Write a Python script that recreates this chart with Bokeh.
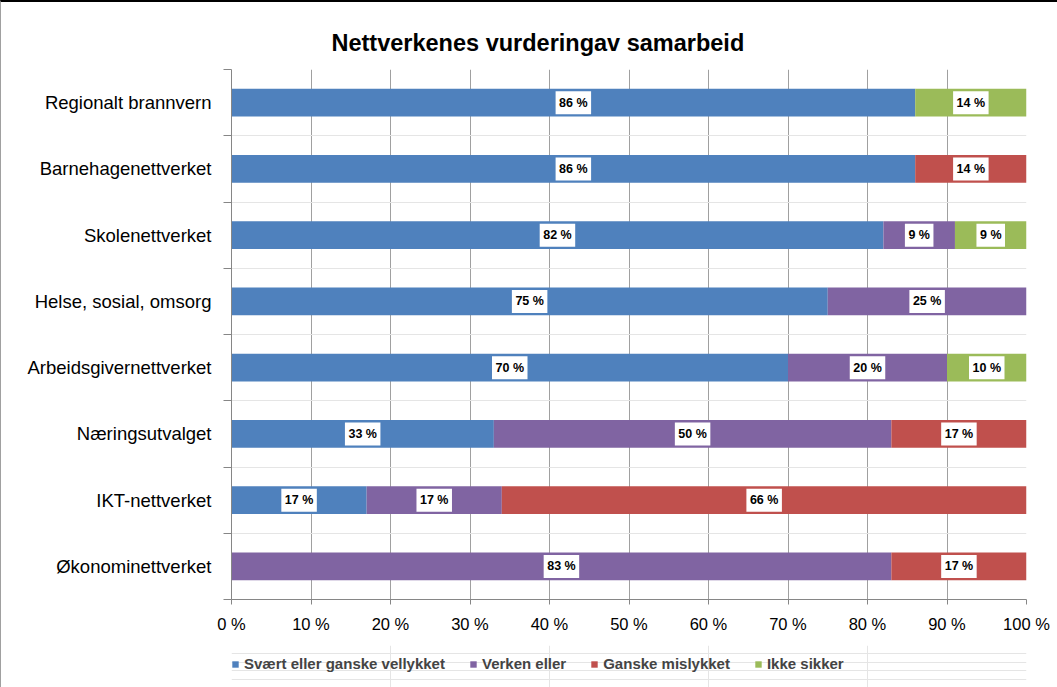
import numpy as np
from bokeh.plotting import figure
from bokeh.layouts import column
from bokeh.models import (ColumnDataSource, Range1d, LinearAxis, FixedTicker, Legend, LegendItem)
from bokeh.core.properties import value
from bokeh.embed import file_html
from bokeh.resources import INLINE

# ---------------- data ----------------
categories = ["Regionalt brannvern", "Barnehagenettverket", "Skolenettverket",
              "Helse, sosial, omsorg", "Arbeidsgivernettverket", "Næringsutvalget",
              "IKT-nettverket", "Økonominettverket"]
svaert_vellykket = [86, 86, 82, 75, 70, 33, 17, 0]
verken_eller = [0, 0, 9, 25, 20, 50, 17, 83]
ganske_mislykket = [0, 14, 0, 0, 0, 17, 66, 17]
ikke_sikker = [14, 0, 9, 0, 10, 0, 0, 0]
series_names = ["Svært eller ganske vellykket", "Verken eller", "Ganske mislykket", "Ikke sikker"]
x_ticks = [0, 10, 20, 30, 40, 50, 60, 70, 80, 90, 100]
x_tick_labels = ["0 %", "10 %", "20 %", "30 %", "40 %", "50 %", "60 %", "70 %", "80 %", "90 %", "100 %"]
title_text = "Nettverkenes vurderingav samarbeid"

colors = ["#4F81BD", "#8064A2", "#C0504D", "#9BBB59"]
FONT = "Liberation Sans"
n = len(categories)

# category positions: first category at top
ypos = [float(n - 1 - i) + 0.5 for i in range(n)]

keys = ["s1", "s2", "s3", "s4"]
series = [svaert_vellykket, verken_eller, ganske_mislykket, ikke_sikker]
src = ColumnDataSource(dict(y=ypos, s1=svaert_vellykket, s2=verken_eller,
                            s3=ganske_mislykket, s4=ikke_sikker))

# label positions (segment midpoints)
lx, ly, lt, lw = [], [], [], []
for i in range(n):
    start = 0
    for s in series:
        v = s[i]
        if v > 0:
            lx.append(start + v / 2)
            ly.append(ypos[i])
            lt.append(f"{v} %")
            lw.append(len(str(v)) * 6.95 + 14.6 + 7)
        start += v
lsrc = ColumnDataSource(dict(x=lx, y=ly, text=lt, w=lw))

p = figure(width=1057, height=645, output_backend="svg", toolbar_location=None,
           y_range=Range1d(0, n), x_range=Range1d(0, 100),
           y_axis_location=None, x_axis_location="below",
           min_border_left=230, min_border_right=32, min_border_top=67, min_border_bottom=48)
p.styles = {"border-top": "2px solid #000000", "border-left": "1px solid #a0a0a0"}
p.outline_line_color = None
p.background_fill_color = "white"
p.border_fill_color = "white"

renderers = p.hbar_stack(keys, y="y", height=0.42, color=colors, source=src, line_color=None)

# x axis
xa = p.xaxis[0]
xa.ticker = FixedTicker(ticks=x_ticks)
xa.major_label_overrides = {t: l for t, l in zip(x_ticks, x_tick_labels)}
xa.major_label_text_font = FONT
xa.major_label_text_font_size = "16.5px"
xa.major_label_text_color = "#000000"
xa.major_label_standoff = 10
xa.major_tick_in = 0
xa.major_tick_out = 5
xa.major_tick_line_color = "#868686"
xa.minor_tick_line_color = None
xa.axis_line_color = "#868686"
p.xgrid.grid_line_color = "#a0a0a0"

# y axis: tick marks between categories + category labels
tick_axis = LinearAxis(ticker=FixedTicker(ticks=list(range(n + 1))),
                       major_label_text_font_size="0px", major_tick_in=0, major_tick_out=8,
                       major_tick_line_color="#868686", minor_tick_line_color=None,
                       axis_line_color="#868686", major_label_standoff=0)
tick_axis.major_label_overrides = {i: "" for i in range(n + 1)}
p.add_layout(tick_axis, "left")
cat_axis = LinearAxis(ticker=FixedTicker(ticks=ypos), major_tick_line_color=None,
                      minor_tick_line_color=None, axis_line_color=None,
                      major_label_text_font=FONT, major_label_text_font_size="18.5px",
                      major_label_text_color="#000000", major_label_standoff=6)
cat_axis.major_label_overrides = {y: c for y, c in zip(ypos, categories)}
p.add_layout(cat_axis, "left")

# value labels: white boxes + bold text
p.rect(x="x", y="y", width="w", height=23, width_units="screen", height_units="screen",
       fill_color="white", line_color=None, source=lsrc)
p.text(x="x", y="y", text="text", source=lsrc, text_align="center", text_baseline="middle",
       text_font=value(FONT), text_font_size="12.5px", text_font_style="bold",
       text_color="#000000")

# title
p.title.text = title_text
p.title.text_font = FONT
p.title.text_font_size = "23.5px"
p.title.text_font_style = "bold"
p.title.align = "left"
p.title.offset = 100
p.title.standoff = 28
p.title.text_color = "#000000"

# legend strip (separate figure below, sharing the data source; bars out of view)
p2 = figure(width=1057, height=42, output_backend="svg", toolbar_location=None,
            x_range=Range1d(0, 100), y_range=Range1d(100, 101),
            x_axis_location=None, y_axis_location=None,
            min_border_left=230, min_border_right=32, min_border_top=0, min_border_bottom=0)
p2.styles = {"border-left": "1px solid #a0a0a0"}
p2.outline_line_color = None
p2.background_fill_color = "white"
p2.border_fill_color = "white"
r2 = p2.hbar_stack(keys, y="y", height=0.42, color=colors, source=src, line_color=None)

legend = Legend(items=[LegendItem(label=nm, renderers=[r]) for nm, r in zip(series_names, r2)],
                orientation="horizontal", location=(0, 15), glyph_width=8, glyph_height=8,
                label_text_font=FONT, label_text_font_size="15px", label_text_font_style="bold",
                spacing=24, padding=0, margin=0, border_line_color=None,
                background_fill_alpha=0, label_standoff=5)
p2.add_layout(legend)

layout = column(p, p2, spacing=0)
open("out.html", "w").write(file_html(layout, INLINE))
